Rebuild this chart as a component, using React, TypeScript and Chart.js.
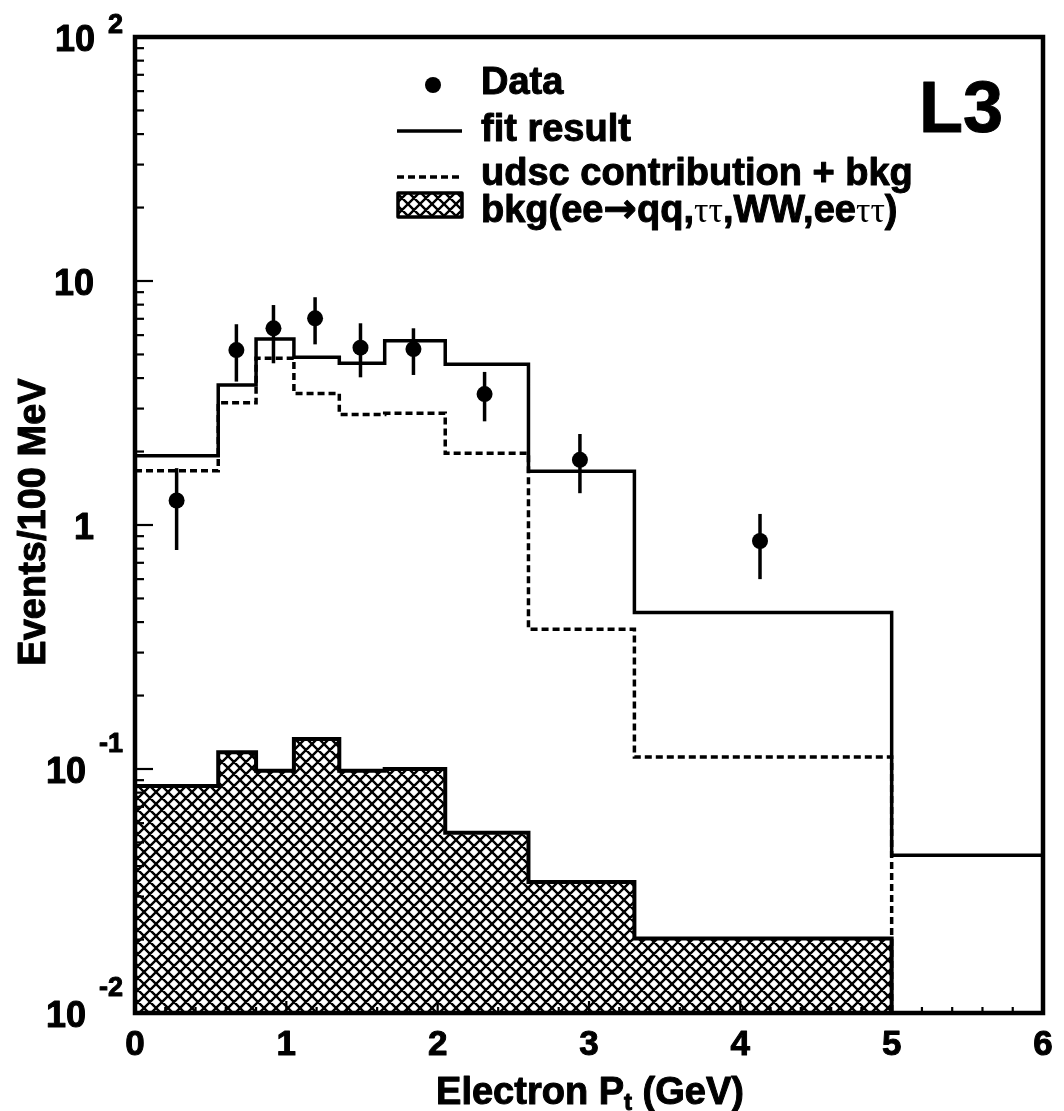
import React, { useEffect, useRef } from "react";
import { Chart, registerables } from "chart.js";

Chart.register(...registerables);

// ---------------- data ----------------
const binEdges = [0, 0.55, 0.8, 1.05, 1.35, 1.65, 2.05, 2.6, 3.3, 5.0, 6.0];
const fitResult = [1.92, 3.75, 5.78, 4.87, 4.6, 5.69, 4.56, 1.66, 0.438, 0.0443];
const udscPlusBkg = [1.67, 3.17, 4.82, 3.46, 2.84, 2.87, 1.97, 0.374, 0.112];
const bkgValues = [0.0852, 0.117, 0.0984, 0.1327, 0.0984, 0.1, 0.0548, 0.0344, 0.0202];

const dataX = [0.275, 0.67, 0.915, 1.19, 1.49, 1.84, 2.31, 2.94, 4.13];
const dataY = [1.26, 5.21, 6.4, 7.03, 5.33, 5.26, 3.44, 1.85, 0.86];
const dataErrHigh = [1.71, 6.65, 7.97, 8.58, 6.71, 6.4, 4.24, 2.36, 1.11];
const dataErrLow = [0.79, 3.87, 4.6, 5.5, 4.03, 4.12, 2.66, 1.35, 0.6];

const xTickValues = [0, 1, 2, 3, 4, 5, 6];
const xTickLabels = ["0", "1", "2", "3", "4", "5", "6"];
const yTickValues = [0.01, 0.1, 1, 10, 100];
const yTickBases = ["10", "10", "1", "10", "10"];
const yTickExponents = ["-2", "-1", "", "", "2"];

const legendLabels = ["Data", "fit result", "udsc contribution + bkg", "bkg(ee→qq,ττ,WW,eeττ)"];
const xTitleMain = "Electron P";
const xTitleSub = "t";
const xTitleTail = " (GeV)";
const yTitle = "Events/100 MeV";
const experimentLabel = "L3";

const X_MIN = 0;
const X_MAX = 6;
const Y_MIN = 0.01;
const Y_MAX = 100;

const SANS = '"Liberation Sans", Arial, Helvetica, sans-serif';
const SERIF = '"Liberation Serif", "DejaVu Serif", serif';
const ARROW_FONT = '"DejaVu Sans", sans-serif';

function stepPoints(values: number[], closeToMin: boolean) {
  const pts = values.map((v, i) => ({ x: binEdges[i], y: v }));
  const endX = binEdges[values.length];
  pts.push({ x: endX, y: closeToMin ? Y_MIN : values[values.length - 1] });
  return pts;
}

function makePattern(ctx: CanvasRenderingContext2D): CanvasPattern | string {
  const s = 12;
  const tile = document.createElement("canvas");
  tile.width = s;
  tile.height = s;
  const g = tile.getContext("2d");
  if (!g) return "#000";
  g.fillStyle = "#fff";
  g.fillRect(0, 0, s, s);
  g.strokeStyle = "#000";
  g.lineWidth = 2.4;
  g.beginPath();
  for (let k = -1; k <= 1; k++) {
    g.moveTo(k * s - 2, -2);
    g.lineTo(k * s + s + 2, s + 2);
    g.moveTo(k * s + s + 2, -2);
    g.lineTo(k * s - 2, s + 2);
  }
  g.stroke();
  return ctx.createPattern(tile, "repeat") || "#000";
}

function boldText(ctx: CanvasRenderingContext2D, text: string, x: number, y: number) {
  ctx.fillText(text, x, y);
  ctx.strokeText(text, x, y);
}

export default function App() {
  const canvasRef = useRef<HTMLCanvasElement | null>(null);

  useEffect(() => {
    document.body.style.margin = "0";
    const canvas = canvasRef.current;
    if (!canvas) return;
    const ctx0 = canvas.getContext("2d");
    if (!ctx0) return;
    const pattern = makePattern(ctx0);

    const errorBarPlugin = {
      id: "errorBars",
      afterDatasetsDraw(chart: any) {
        const { ctx, scales } = chart;
        const xs = scales.x;
        const ys = scales.y;
        ctx.save();
        ctx.strokeStyle = "#000";
        ctx.lineWidth = 3.5;
        dataX.forEach((x, i) => {
          const px = xs.getPixelForValue(x);
          ctx.beginPath();
          ctx.moveTo(px, ys.getPixelForValue(dataErrHigh[i]));
          ctx.lineTo(px, ys.getPixelForValue(dataErrLow[i]));
          ctx.stroke();
        });
        ctx.restore();
      },
    };

    const decorPlugin = {
      id: "decor",
      afterDraw(chart: any) {
        const { ctx, chartArea: a, scales } = chart;
        const xs = scales.x;
        const ys = scales.y;
        ctx.save();

        // frame
        ctx.strokeStyle = "#000";
        ctx.lineWidth = 4.5;
        ctx.strokeRect(a.left, a.top, a.right - a.left, a.bottom - a.top);

        // y ticks (inward)
        ctx.lineWidth = 2.2;
        for (let d = -2; d <= 1; d++) {
          for (let m = 1; m <= 9; m++) {
            const v = m * Math.pow(10, d);
            const py = ys.getPixelForValue(v);
            const len = m === 1 ? 18 : 9;
            ctx.beginPath();
            ctx.moveTo(a.left, py);
            ctx.lineTo(a.left + len, py);
            ctx.stroke();
          }
        }
        // x ticks (inward)
        for (let k = 1; k < 30; k++) {
          const v = k * 0.2;
          const px = xs.getPixelForValue(v);
          const len = k % 5 === 0 ? 12 : 6;
          ctx.beginPath();
          ctx.moveTo(px, a.bottom);
          ctx.lineTo(px, a.bottom - len);
          ctx.stroke();
        }

        ctx.fillStyle = "#000";
        ctx.strokeStyle = "#000";
        ctx.lineWidth = 1;
        ctx.lineJoin = "round";
        ctx.textBaseline = "alphabetic";

        // x tick labels
        ctx.font = `bold 35px ${SANS}`;
        ctx.textAlign = "center";
        xTickValues.forEach((v, i) => {
          boldText(ctx, xTickLabels[i], xs.getPixelForValue(v), 1055);
        });

        // y tick labels
        yTickValues.forEach((v, i) => {
          const py = ys.getPixelForValue(v);
          const exp = yTickExponents[i];
          if (exp) {
            ctx.font = `bold 27px ${SANS}`;
            ctx.textAlign = "right";
            const ew = ctx.measureText(exp).width;
            boldText(ctx, exp, 123, Math.max(py - 17, 33));
            ctx.font = `bold 36px ${SANS}`;
            boldText(ctx, yTickBases[i], 123 - ew - 13, py + 14);
          } else {
            ctx.font = `bold 36px ${SANS}`;
            ctx.textAlign = "right";
            boldText(ctx, yTickBases[i], 94, py + 14);
          }
        });

        // x title
        ctx.font = `bold 38px ${SANS}`;
        const wMain = ctx.measureText(xTitleMain).width;
        const wTail = ctx.measureText(xTitleTail).width;
        ctx.font = `bold 24px ${SANS}`;
        const wSub = ctx.measureText(xTitleSub).width;
        const total = wMain + wSub + wTail;
        let tx = 590 - total / 2;
        ctx.textAlign = "left";
        ctx.font = `bold 38px ${SANS}`;
        boldText(ctx, xTitleMain, tx, 1104);
        tx += wMain;
        ctx.font = `bold 24px ${SANS}`;
        boldText(ctx, xTitleSub, tx, 1110);
        tx += wSub;
        ctx.font = `bold 38px ${SANS}`;
        boldText(ctx, xTitleTail, tx, 1104);

        // y title
        ctx.save();
        ctx.translate(45, (a.top + a.bottom) / 2 - 3);
        ctx.rotate(-Math.PI / 2);
        ctx.textAlign = "center";
        ctx.font = `bold 38px ${SANS}`;
        boldText(ctx, yTitle, 0, 0);
        ctx.restore();

        // L3
        ctx.textAlign = "right";
        ctx.font = `bold 72px ${SANS}`;
        boldText(ctx, experimentLabel, 1003, 132);

        // legend
        ctx.textAlign = "left";
        const lx = 481;
        ctx.beginPath();
        ctx.arc(433, 85, 8, 0, Math.PI * 2);
        ctx.fill();
        ctx.font = `bold 38px ${SANS}`;
        boldText(ctx, legendLabels[0], lx, 94);

        ctx.lineWidth = 3.5;
        ctx.beginPath();
        ctx.moveTo(397, 131);
        ctx.lineTo(462, 131);
        ctx.stroke();
        ctx.lineWidth = 1;
        boldText(ctx, legendLabels[1], lx, 141);

        ctx.lineWidth = 3.5;
        ctx.setLineDash([7, 4]);
        ctx.beginPath();
        ctx.moveTo(397, 177);
        ctx.lineTo(462, 177);
        ctx.stroke();
        ctx.setLineDash([]);
        ctx.lineWidth = 1;
        boldText(ctx, legendLabels[2], lx, 185);

        ctx.fillStyle = pattern;
        ctx.fillRect(398, 193, 64, 24);
        ctx.fillStyle = "#000";
        ctx.lineWidth = 3.5;
        ctx.strokeRect(398, 193, 64, 24);
        ctx.lineWidth = 1;
        let bx = lx;
        legendLabels[3].split(/(τ+|→)/).forEach((seg) => {
          if (!seg) return;
          if (/^τ+$/.test(seg)) {
            ctx.font = `36px ${SERIF}`;
            ctx.fillText(seg, bx, 222);
          } else if (seg === "→") {
            ctx.font = `bold 40px ${ARROW_FONT}`;
            boldText(ctx, seg, bx, 222);
          } else {
            ctx.font = `bold 38px ${SANS}`;
            boldText(ctx, seg, bx, 222);
          }
          bx += ctx.measureText(seg).width;
        });

        ctx.restore();
      },
    };

    const chart = new Chart(canvas, {
      type: "line",
      data: {
        datasets: [
          {
            label: legendLabels[0],
            data: dataX.map((x, i) => ({ x, y: dataY[i] })),
            showLine: false,
            pointRadius: 8,
            pointBackgroundColor: "#000",
            pointBorderColor: "#000",
            pointBorderWidth: 0,
            order: 0,
          },
          {
            label: legendLabels[1],
            data: stepPoints(fitResult, false),
            stepped: "before",
            borderColor: "#000",
            borderWidth: 3.5,
            pointRadius: 0,
            fill: false,
            order: 1,
          },
          {
            label: legendLabels[2],
            data: stepPoints(udscPlusBkg, true),
            stepped: "before",
            borderColor: "#000",
            borderWidth: 3.5,
            borderDash: [7, 4],
            pointRadius: 0,
            fill: false,
            order: 2,
          },
          {
            label: legendLabels[3],
            data: stepPoints(bkgValues, true),
            stepped: "before",
            borderColor: "#000",
            borderWidth: 4,
            backgroundColor: pattern as any,
            fill: "start",
            pointRadius: 0,
            order: 3,
          },
        ],
      } as any,
      options: {
        responsive: false,
        animation: false,
        devicePixelRatio: 1,
        events: [],
        layout: { padding: { left: 135, right: 21, top: 37, bottom: 98 } },
        plugins: {
          legend: { display: false },
          tooltip: { enabled: false },
          title: { display: false },
        },
        elements: { line: { tension: 0 } },
        scales: {
          x: { type: "linear", min: X_MIN, max: X_MAX, display: false },
          y: { type: "logarithmic", min: Y_MIN, max: Y_MAX, display: false },
        },
      } as any,
      plugins: [errorBarPlugin, decorPlugin],
    });

    return () => {
      chart.destroy();
    };
  }, []);

  return (
    <div style={{ width: 1064, height: 1111, background: "#fff" }}>
      <canvas ref={canvasRef} width={1064} height={1111} style={{ display: "block" }} />
    </div>
  );
}
